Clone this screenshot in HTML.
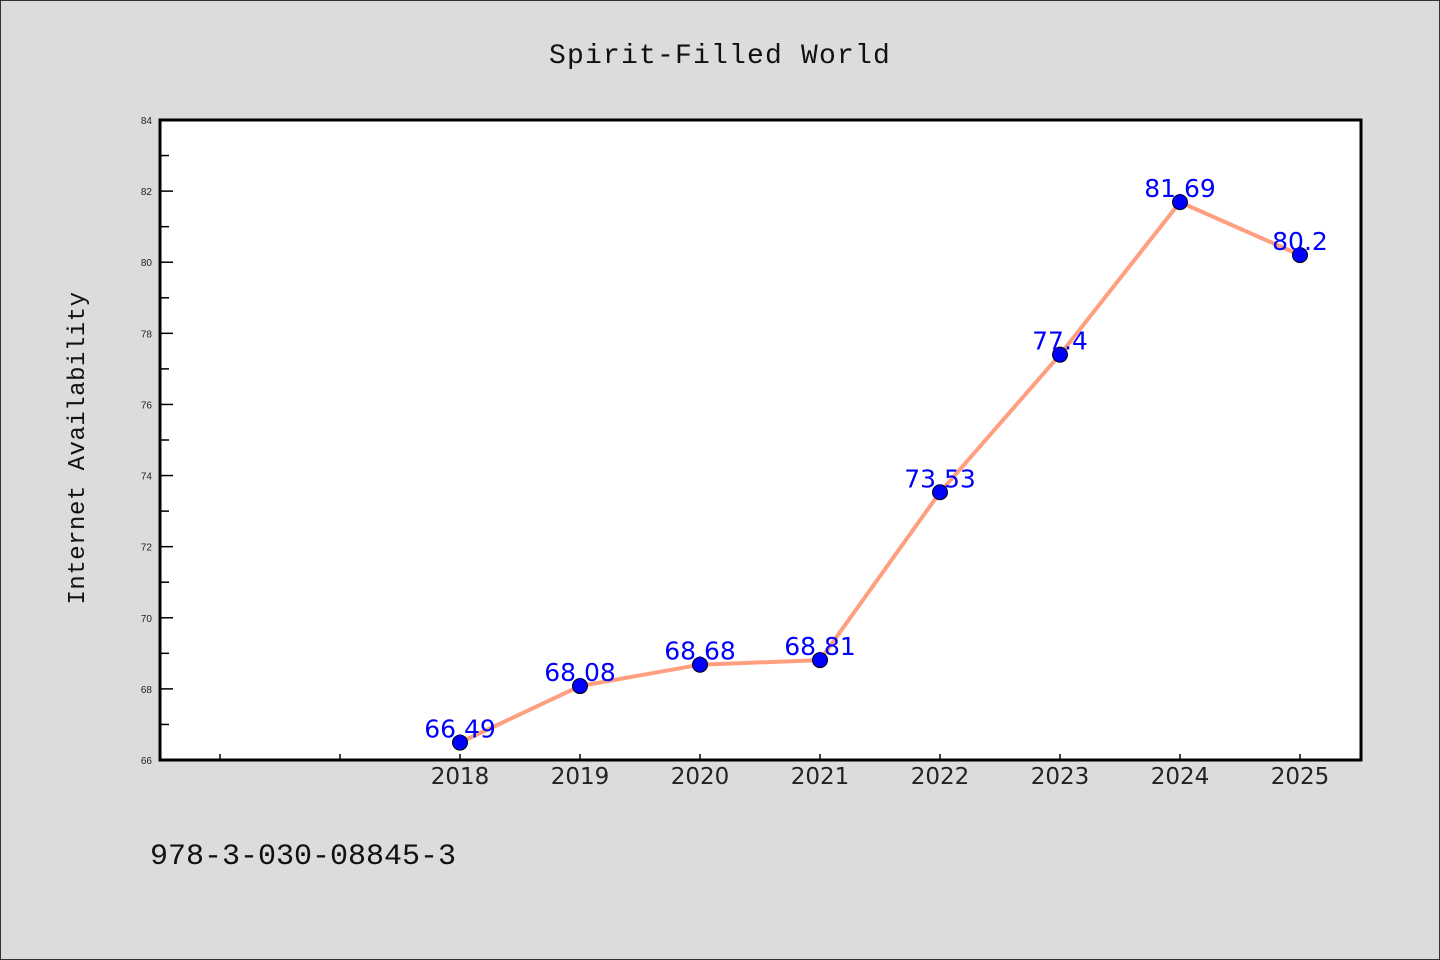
<!DOCTYPE html>
<html><head><meta charset="utf-8"><style>
body{margin:0;background:#dcdcdc;}
svg{display:block;}
</style></head><body>
<svg width="1440" height="960" xmlns="http://www.w3.org/2000/svg">
<rect x="0.5" y="0.5" width="1439" height="959" fill="#dcdcdc" stroke="#333"/>
<text x="720" y="63" text-anchor="middle" font-family="Liberation Mono, monospace" font-size="28" letter-spacing="1.2" fill="#111">Spirit-Filled World</text>
<rect x="160" y="120" width="1201" height="640" fill="#fff"/>
<g id="axes"></g>
<g id="marks"></g>
<rect x="160" y="120" width="1201" height="640" fill="none" stroke="#000" stroke-width="3"/>
<text transform="translate(84,448) rotate(-90)" text-anchor="middle" font-family="Liberation Mono, monospace" font-size="24" letter-spacing="0.5" fill="#111">Internet Availability</text>
<text x="150" y="864" font-family="Liberation Mono, monospace" font-size="30" fill="#111">978-3-030-08845-3</text>
</svg>
<script>
const years=[2018,2019,2020,2021,2022,2023,2024,2025];
const values=[66.49,68.08,68.68,68.81,73.53,77.4,81.69,80.2];
const valueLabels=["66.49","68.08","68.68","68.81","73.53","77.4","81.69","80.2"];
const yTicks=[66,68,70,72,74,76,78,80,82,84];
const extraXTicks=[2016,2017];
const NS="http://www.w3.org/2000/svg";
const x=v=>460+(v-2018)*120;
const y=v=>760-(v-66)*(640/18);
function mk(tag,attrs,parent){const e=document.createElementNS(NS,tag);for(const k in attrs)e.setAttribute(k,attrs[k]);parent.appendChild(e);return e;}
const axes=document.getElementById('axes'),marks=document.getElementById('marks');
yTicks.forEach((t,i)=>{
 const l=mk('line',{x1:160,x2:173,y1:y(t),y2:y(t),stroke:'#000','stroke-width':1.5},axes);
 
 
 const tx=mk('text',{x:152,y:y(t)+4,'text-anchor':'end','font-family':'Liberation Sans, sans-serif','font-size':10,fill:'#222'},axes);
 tx.textContent=t;
 
 
 if(i<yTicks.length-1){
  const m=mk('line',{x1:160,x2:169,y1:y(t+1),y2:y(t+1),stroke:'#000','stroke-width':1.5},axes);
  
  
 }
});
extraXTicks.concat(years).forEach(yr=>{
 const l=mk('line',{x1:x(yr),x2:x(yr),y1:760,y2:754,stroke:'#000','stroke-width':1.5},axes);
 
 
});
years.forEach(yr=>{
 const tx=mk('text',{x:x(yr),y:784,'text-anchor':'middle','font-family':'DejaVu Sans, sans-serif','font-size':23,fill:'#222'},axes);
 tx.textContent=yr;
 
 
});
const pl=mk('polyline',{points:years.map((yr,i)=>x(yr)+','+y(values[i])).join(' '),fill:'none',stroke:'#ff9f7f','stroke-width':4,'stroke-linejoin':'round'},marks);


years.forEach((yr,i)=>{
 const c=mk('circle',{cx:x(yr),cy:y(values[i]),r:7.5,fill:'#0000ff',stroke:'#000','stroke-width':1},marks);
 
 
});
years.forEach((yr,i)=>{
 const t=mk('text',{x:x(yr),y:y(values[i])-5,'text-anchor':'middle','font-family':'DejaVu Sans, sans-serif','font-size':25,fill:'#0000ff'},marks);
 t.textContent=valueLabels[i];
 
 
});
</script>
</body></html>
